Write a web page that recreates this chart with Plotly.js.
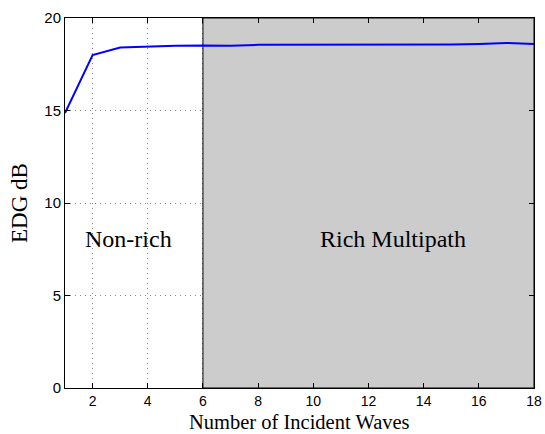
<!DOCTYPE html>
<html><head><meta charset="utf-8">
<script src="https://cdn.plot.ly/plotly-3.0.1.min.js"></script>
<style>html,body{margin:0;padding:0;background:#fff}</style>
</head><body>
<div id="chart" style="width:545px;height:434px"></div>
<script>
const waves = [1,2,3,4,5,6,7,8,9,10,11,12,13,14,15,16,17,18];
const edgDb = [14.86,18.0,18.4,18.46,18.5,18.52,18.5,18.55,18.55,18.57,18.56,18.58,18.58,18.55,18.57,18.6,18.65,18.6];
const xTicks = [2,4,6,8,10,12,14,16,18];
const yTicks = [0,5,10,15,20];
const richStart = 6;
const richEnd = 18;
const xTitle = 'Number of Incident Waves';
const yTitle = 'EDG dB';

const trace = {x: waves, y: edgDb, mode: 'lines', line: {color: '#0000ff', width: 2}, hoverinfo: 'none'};
const tickFont = {family: 'Liberation Sans, Arial, sans-serif', size: 15, color: '#000'};
const xTickFont = {family: 'Liberation Sans, Arial, sans-serif', size: 14, color: '#000'};
const axisTitleFont = {family: 'Liberation Serif, Times New Roman, serif', size: 23, color: '#000'};
const xTitleFont = {family: 'Liberation Serif, Times New Roman, serif', size: 20.5, color: '#000'};
const annFont = {family: 'Liberation Serif, Times New Roman, serif', size: 24, color: '#000'};
const layout = {
  width: 545, height: 434,
  margin: {l: 65, r: 11, t: 18, b: 46},
  paper_bgcolor: '#fff', plot_bgcolor: '#fff',
  showlegend: false,
  xaxis: {range: [1, 18], tickvals: xTicks, ticktext: xTicks.map(String), showgrid: true,
    gridcolor: '#888', griddash: '1px,4px', gridwidth: 1, zeroline: false,
    showline: true, linecolor: '#000', linewidth: 1, mirror: 'ticks', ticks: 'inside', ticklen: 5, tickcolor: '#000',
    ticklabelstandoff: 0,
    tickfont: xTickFont, automargin: false},
  yaxis: {range: [0, 20], tickvals: yTicks, ticktext: yTicks.map(String), showgrid: true,
    gridcolor: '#888', griddash: '1px,4px', gridwidth: 1, zeroline: false,
    showline: true, linecolor: '#000', linewidth: 1, mirror: 'ticks', ticks: 'inside', ticklen: 5, tickcolor: '#000',
    tickfont: tickFont, title: {text: yTitle, font: axisTitleFont, standoff: 10}, automargin: false},
  shapes: [{type: 'rect', xref: 'x', yref: 'y', x0: richStart, x1: richEnd, y0: 0, y1: 20,
    fillcolor: '#cccccc', line: {color: '#000', width: 1}, layer: 'between'}],
  annotations: [
    {x: 0.5, y: 0, xref: 'paper', yref: 'paper', xanchor: 'center', yanchor: 'bottom', yshift: -46,
     borderpad: 0, text: xTitle, showarrow: false, font: xTitleFont},
    {x: 3.3, y: 8.05, xref: 'x', yref: 'y', text: 'Non-rich', showarrow: false, font: annFont},
    {x: 12.9, y: 8.05, xref: 'x', yref: 'y', text: 'Rich Multipath', showarrow: false, font: annFont}
  ]
};
Plotly.newPlot('chart', [trace], layout, {displayModeBar: false, staticPlot: true});
</script>
</body></html>
